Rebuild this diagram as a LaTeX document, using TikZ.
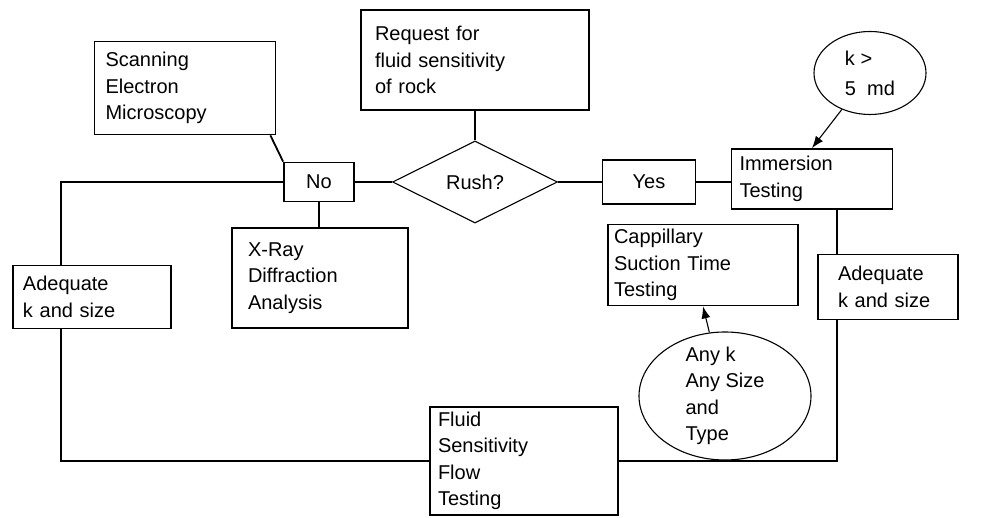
\documentclass[tikz,border=0pt]{standalone}
\usepackage{fontspec}
\setmainfont{Liberation Sans}
\usetikzlibrary{arrows.meta,shapes.geometric}

\begin{document}
\begin{tikzpicture}[
  x=1pt, y=-1pt,
  font=\fontsize{20}{26.5}\selectfont,
  box/.style={draw, line width=1.8pt, fill=white, align=left,
              inner xsep=10pt, inner ysep=0pt},
  tag/.style={draw, line width=1.8pt, fill=white, align=center, inner sep=0pt},
  oval/.style={draw, ellipse, line width=1.1pt, fill=white, inner sep=0pt},
  link/.style={line width=1.8pt},
  arr/.style={-{Latex[length=12pt,width=9pt]}, line width=1.1pt}
]
\useasboundingbox (0,0) rectangle (986,518);

% nodes
\node[box, inner xsep=14pt, text width=200pt, minimum height=100pt] (req) at (475,60)
  {Request for\\fluid sensitivity\\of rock};
\node[draw, diamond, line width=1.1pt, fill=white, inner sep=0pt,
      minimum width=165pt, minimum height=82pt] (rush) at (475,182) {Rush?};
\node[tag, minimum width=70pt, minimum height=39pt] (no) at (319,182) {No};
\node[tag, minimum width=93pt, minimum height=44pt] (yes) at (649,182) {Yes};
\node[box, inner xsep=11pt, text width=159pt, minimum height=93pt] (scan) at (185,88)
  {Scanning\\Electron\\Microscopy};
\node[box, inner xsep=16pt, text width=144pt, minimum height=100pt] (xray) at (320,278)
  {X-Ray\\Diffraction\\Analysis};
\node[box, text width=138pt, minimum height=63pt] (adqL) at (92,297)
  {Adequate\\k and size};
\node[box, inner xsep=8pt, text width=172pt, minimum height=108pt] (flow) at (524,461)
  {Fluid\\Sensitivity\\Flow\\Testing};
\node[box, inner xsep=8pt, text width=145pt, minimum height=60pt] (imm) at (812,179)
  {Immersion\\Testing};
\node[box, inner xsep=20pt, text width=100pt, minimum height=65pt] (adqR) at (888,287)
  {Adequate\\k and size};
\node[box, inner xsep=6pt, text width=178pt, minimum height=81pt] (cap) at (703,265)
  {Cappillary\\Suction Time\\Testing};
\node[oval, minimum width=112pt, minimum height=83pt,
      label={[align=left, font=\fontsize{20}{30}\selectfont]center:{k >\\5~~md}}] (kell) at (870,73) {};
\node[oval, minimum width=172pt, minimum height=128pt,
      label={[align=left]center:{Any k\\Any Size\\and\\Type}}] (anyk) at (725,396) {};

% connectors
\draw[link] (req.south) -- (rush.north);
\draw[link] (rush.west) -- (no.east);
\draw[link] (rush.east) -- (yes.west);
\draw[link] (yes.east) -- (yes.east -| imm.west);
\draw[link] ([xshift=-6pt]scan.south east) -- (no.north west);
\draw[link] (no.south) -- (no.south |- xray.north);
\draw[link] (no.west) -| ([xshift=-31pt]adqL.north);
\draw[link] ([xshift=-31pt]adqL.south) |- (flow.west);
\draw[link] ([xshift=25pt]imm.south) -- ([xshift=25pt]imm.south |- adqR.north);
\draw[link] ([xshift=-51pt]adqR.south) |- (flow.east);

% arrows
\draw[arr] (kell) -- (imm.north);
\draw[arr] (anyk) -- (cap.south);
\end{tikzpicture}
\end{document}
